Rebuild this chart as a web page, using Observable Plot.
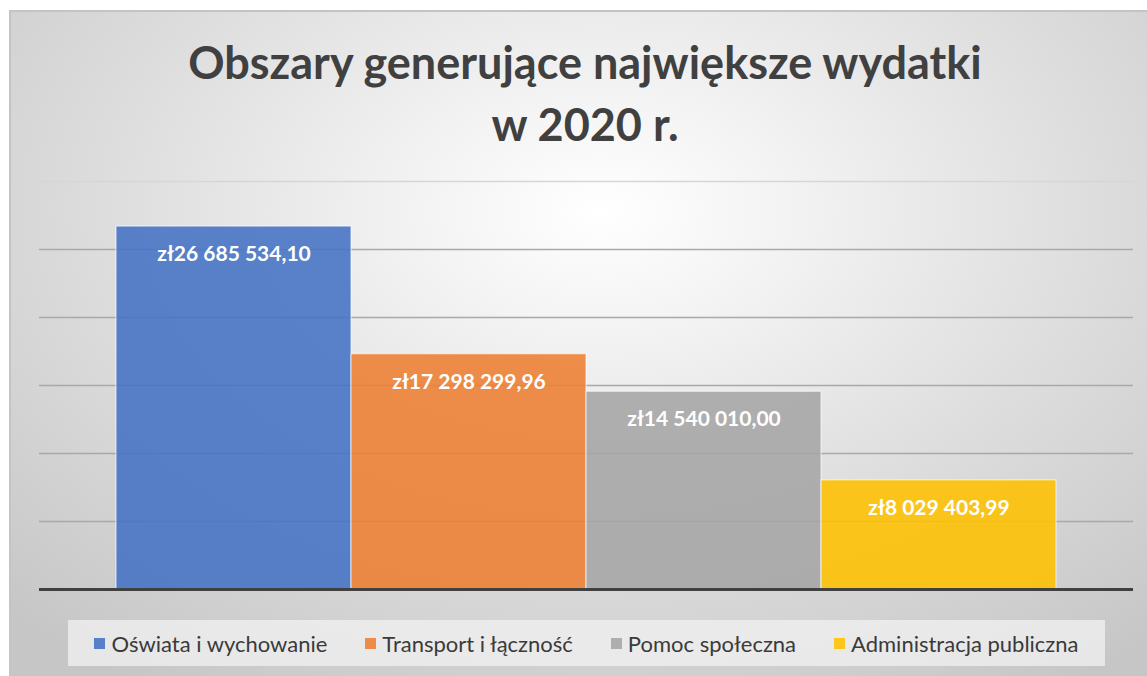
<!DOCTYPE html>
<html>
<head>
<meta charset="utf-8">
<script src="https://cdn.jsdelivr.net/npm/d3@7"></script>
<script src="https://cdn.jsdelivr.net/npm/@observablehq/plot@0.6"></script>
<style>
  html, body { margin: 0; padding: 0; background: #ffffff; }
  #root { position: relative; width: 1147px; height: 676px; overflow: hidden; background: #ffffff; font-family: Lato, "Open Sans", sans-serif; }
  #panel { position: absolute; left: 9px; top: 10px; right: 0; bottom: 0;
    border-top: 2px solid #c4c4c4; border-left: 2px solid #c4c4c4;
    background: radial-gradient(ellipse 75% 85% at 52% 30%, #ffffff 0%, #f1f1f1 25%, #dcdcdc 60%, #c6c6c6 100%); }
  #title { position: absolute; left: 0; width: 1170px; top: 31px; text-align: center; color: #404040;
    font-weight: 700; font-size: 45px; line-height: 62px; }
  #chart { position: absolute; left: 0; top: 170px; }
  #legend { position: absolute; left: 68px; top: 620px; width: 1037px; height: 46px;
    background: rgba(242,242,242,0.75); display: flex; align-items: center; justify-content: center; gap: 38px;
    color: #3a3a3a; font-size: 22px; }
  .item { display: flex; align-items: center; white-space: nowrap; }
  .sw { width: 11px; height: 11px; margin-right: 6px; }
</style>
</head>
<body>
<div id="root">
  <div id="panel"></div>
  <div id="title">Obszary generujące największe wydatki<br>w 2020 r.</div>
  <div id="chart"></div>
  <div id="legend"></div>
</div>
<script>
const categories = ["Oświata i wychowanie", "Transport i łączność", "Pomoc społeczna", "Administracja publiczna"];
const values = [26685534.10, 17298299.96, 14540010.00, 8029403.99];
const colors = ["#4472c4", "#ed7d31", "#a5a5a5", "#ffc000"];
const gridTicks = [5e6, 10e6, 15e6, 20e6, 25e6];
const topTick = [30e6];

const locale = d3.formatLocale({decimal: ",", thousands: "\u00a0", grouping: [3], currency: ["zł", ""]});
const fmt = locale.format("$,.2f");

const data = categories.map((c, i) => ({category: c, value: values[i], color: colors[i]}));

const chart = Plot.plot({
  width: 1147,
  height: 429,
  marginLeft: 39,
  marginRight: 14,
  marginTop: 11,
  marginBottom: 10,
  style: {background: "transparent", overflow: "visible"},
  x: {domain: categories, paddingInner: 0, paddingOuter: 0.3277, round: false, axis: null},
  y: {domain: [0, 30e6], axis: null},
  marks: [
    Plot.ruleY(topTick, {stroke: "#d6d6d6", strokeWidth: 1.5}),
    Plot.ruleY(gridTicks, {stroke: "#a9a9a9", strokeWidth: 1.5}),
    Plot.barY(data, {x: "category", y: "value", fill: "color", fillOpacity: 0.88, stroke: "#ffffff", strokeOpacity: 0.6, strokeWidth: 1.2}),
    Plot.text(data, {x: "category", y: "value", text: d => fmt(d.value), dy: 28, fill: "#ffffff",
      fontWeight: 700, fontSize: 21, fontFamily: "Lato, 'Open Sans', sans-serif"}),
    Plot.ruleY([0], {stroke: "#404040", strokeWidth: 3})
  ]
});
document.getElementById("chart").appendChild(chart);

const legend = document.getElementById("legend");
categories.forEach((c, i) => {
  const item = document.createElement("div");
  item.className = "item";
  const sw = document.createElement("div");
  sw.className = "sw";
  sw.style.background = colors[i];
  sw.style.opacity = 0.88;
  const t = document.createElement("span");
  t.textContent = c;
  item.appendChild(sw);
  item.appendChild(t);
  legend.appendChild(item);
});
</script>
</body>
</html>
